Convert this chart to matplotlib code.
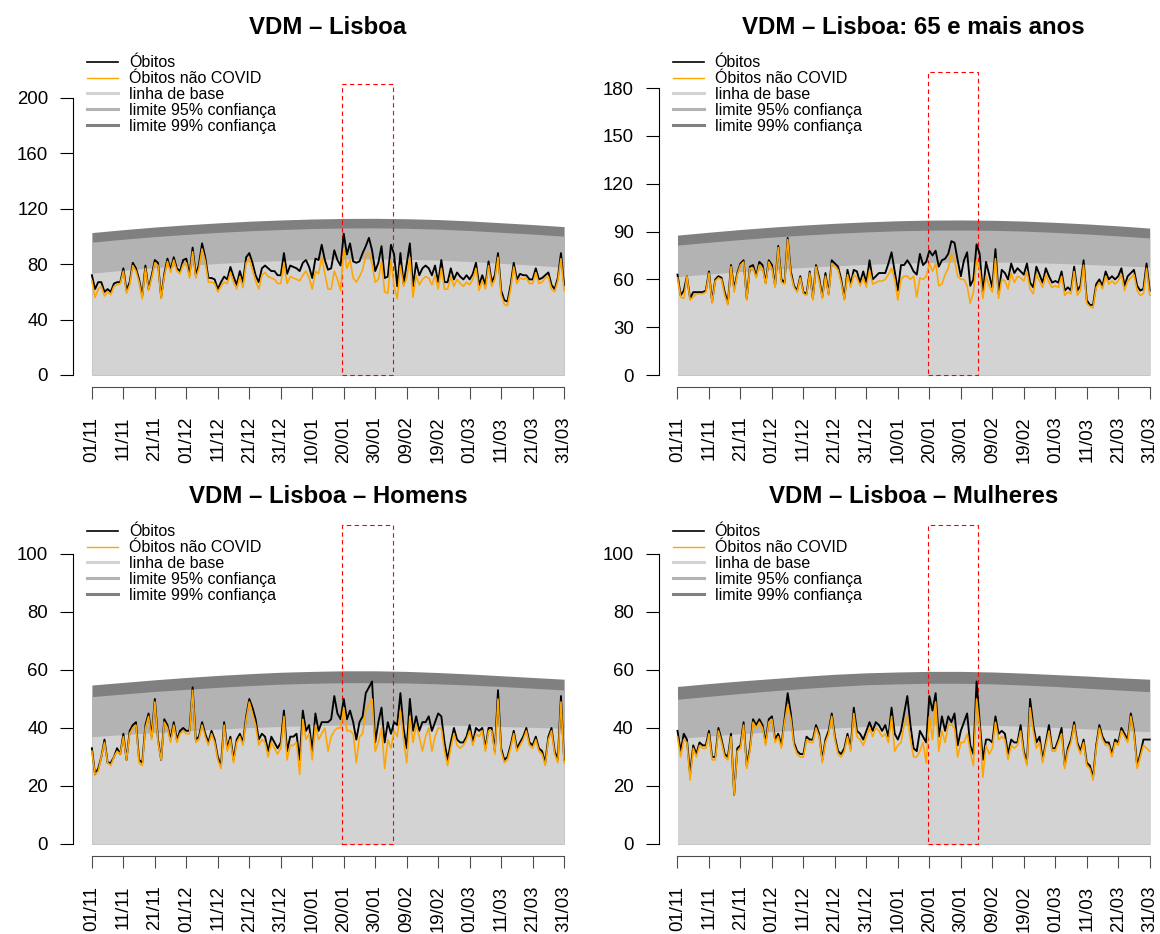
import numpy as np
import matplotlib
matplotlib.use("Agg")
import matplotlib.pyplot as plt
from matplotlib.patches import Rectangle
from matplotlib.lines import Line2D

plt.rcParams['font.family'] = ['Liberation Sans', 'DejaVu Sans']

# daily deaths 01/11 .. 31/03 (151 days)
obitos_total = [72,62,67,67,60,62,60,66,67,67, 77,61,67,81,77,69,57,79,62,72,
                83,81,56,73,84,76,85,77,75,83, 84,72,92,72,80,95,85,70,70,69,
                62,67,71,69,78,71,65,75,67,85, 88,81,72,67,77,79,77,75,75,72,
                72,88,73,79,78,77,75,81,83,78, 70,84,83,94,83,76,77,90,83,79,
                102,87,95,82,81,82,88,93,99,90, 75,81,93,70,71,94,87,64,88,66,
                80,95,64,81,72,77,79,77,72,79, 67,83,67,67,77,69,74,71,69,72,
                69,73,81,65,72,65,82,67,72,88, 61,54,53,65,81,69,73,72,72,69,
                69,77,69,70,72,74,65,62,70,88, 65]
nao_covid_total = [68,56,62,64,57,60,58,64,65,66, 75,59,65,79,75,67,55,77,61,70,
                   81,79,55,71,82,74,83,75,73,80, 81,70,89,70,77,91,82,67,67,66,
                   60,64,67,66,74,67,62,71,63,81, 84,76,68,62,72,74,71,70,69,66,
                   66,81,66,71,70,69,68,72,75,70, 62,75,73,85,73,62,62,75,69,61,
                   91,77,83,70,67,71,76,86,88,80, 67,69,82,60,59,83,64,55,79,64,
                   70,85,56,72,65,69,71,70,65,72, 62,77,62,62,71,64,69,66,64,67,
                   65,69,77,61,68,62,79,64,69,85, 58,51,50,62,78,66,70,69,70,66,
                   66,74,66,67,70,71,62,60,68,84, 61]

obitos_65 = [63,50,53,62,48,52,52,52,52,53, 65,46,60,62,61,52,45,69,54,64,
             70,72,48,68,69,62,71,69,58,72, 69,56,81,60,58,86,65,56,53,62,
             52,51,65,48,69,61,49,64,51,72, 70,68,60,48,66,57,66,65,58,65,
             58,72,60,62,64,64,64,70,77,65, 53,69,69,72,69,65,63,76,69,71,
             78,75,78,68,72,73,76,84,83,72, 62,72,77,56,60,82,76,51,71,63,
             55,79,51,66,64,60,70,64,67,65, 63,70,58,55,68,63,58,67,62,58,
             59,58,65,53,55,53,68,53,56,72, 47,44,44,57,60,56,65,60,62,60,
             62,67,56,62,64,66,56,53,54,70, 53]
nao_covid_65 = [61,49,48,62,47,49,51,51,51,52, 64,45,59,61,60,50,44,68,52,63,
                69,71,47,67,67,61,69,67,57,71, 67,55,80,58,57,85,63,55,52,61,
                51,50,64,47,68,59,48,62,50,70, 68,66,58,47,63,55,63,61,56,61,
                55,66,57,58,59,59,60,63,67,60, 47,60,62,62,60,62,49,61,60,62,
                70,65,70,56,57,63,67,76,72,62, 60,60,56,45,52,72,66,48,62,56,
                52,73,48,60,59,54,64,58,62,61, 59,65,54,51,63,59,55,63,58,55,
                56,55,62,50,52,51,65,50,53,69, 45,43,42,55,58,54,62,57,59,57,
                59,63,53,59,61,63,53,50,51,67, 50]

obitos_homens = [33,24,26,30,36,28,28,30,33,31, 38,29,39,41,42,29,28,41,45,37,
                 50,36,29,43,41,36,42,36,39,40, 39,39,54,36,37,42,38,35,39,36,
                 30,27,42,33,37,29,36,38,35,44, 50,47,43,36,38,37,32,37,35,33,
                 35,46,32,37,37,38,29,46,39,41, 32,45,39,42,42,42,43,51,45,43,
                 50,43,46,42,36,42,44,52,54,56, 35,42,47,35,42,38,42,41,52,40,
                 33,50,39,44,39,42,42,44,39,42, 45,44,35,29,35,40,36,35,35,37,
                 41,35,40,39,40,33,40,40,32,53, 33,29,30,34,39,33,35,37,40,35,
                 34,37,33,32,28,37,40,32,29,51, 29]
nao_covid_homens = [32,24,25,30,35,28,27,30,32,31, 37,29,38,40,41,28,27,40,44,36,
                    49,35,29,42,40,35,41,35,38,39, 38,38,53,35,36,41,37,34,38,35,
                    29,26,41,32,36,28,35,37,34,43, 49,45,41,34,36,35,30,35,33,31,
                    33,44,29,34,34,35,24,43,36,38, 29,41,36,38,40,32,37,39,40,40,
                    47,39,39,38,28,37,38,46,48,50, 32,35,40,26,36,33,39,37,46,36,
                    28,44,35,41,37,32,37,40,32,37, 40,40,32,27,33,38,34,33,34,36,
                    39,34,38,37,39,32,39,39,31,50, 32,28,29,33,38,32,34,36,39,34,
                    33,36,32,31,27,36,39,31,28,49, 28]

obitos_mulheres = [39,32,38,36,24,34,31,35,34,34, 39,30,30,40,36,31,30,38,17,33,
                   34,42,27,33,43,41,43,41,35,43, 44,36,38,34,43,52,45,35,32,31,
                   31,37,36,36,41,38,29,36,39,45, 37,32,31,33,38,33,47,39,38,36,
                   39,42,39,42,41,39,41,37,47,38, 36,39,45,51,41,33,32,39,37,35,
                   51,46,52,37,44,39,44,42,45,34, 39,42,45,34,31,56,42,29,36,36,
                   35,44,38,39,38,31,36,35,35,41, 32,28,50,41,35,37,29,35,41,33,
                   33,36,40,27,33,36,42,35,32,36, 28,27,23,34,41,37,35,35,31,36,
                   35,40,38,36,45,39,27,31,36,36, 36]
nao_covid_mulheres = [37,30,36,35,22,33,30,34,33,33, 38,29,29,39,35,30,29,37,17,32,
                      33,41,26,32,42,40,42,40,34,42, 43,35,37,33,42,48,43,34,31,30,
                      30,36,35,35,40,37,28,35,38,44, 36,31,30,32,37,32,45,37,36,34,
                      37,40,37,40,39,37,38,35,44,32, 34,35,41,44,36,30,30,32,35,28,
                      44,36,49,32,39,35,41,41,40,30, 35,35,38,32,27,50,40,23,34,31,
                      33,42,36,37,36,29,34,33,34,39, 31,27,47,39,33,35,28,34,39,32,
                      32,35,38,26,32,35,41,34,31,35, 27,26,22,33,40,36,34,34,30,35,
                      34,39,37,35,44,38,26,30,34,33, 32]

# baseline and limits every 10 days
base_total = [73.5,75.6,77.5,79.1,80.5,81.7,82.6,83.3,83.7,83.8,83.5,82.9,81.9,80.6,79.3,77.8]
lim95_total = [95.9,98.0,99.9,101.5,102.9,104.1,105.0,105.7,106.1,106.2,105.9,105.3,104.3,103.0,101.7,100.2]
lim99_total = [102.8,104.9,106.8,108.4,109.8,111.0,111.9,112.6,113.0,113.1,112.8,112.2,111.2,109.9,108.6,107.1]

base_65 = [61.7,63.4,64.9,66.3,67.5,68.5,69.4,70.1,70.6,70.9,70.9,70.6,70.1,69.4,68.6,67.8]
lim95_65 = [81.5,83.3,85.0,86.5,87.8,88.9,89.8,90.5,90.9,91.0,90.8,90.3,89.5,88.5,87.3,86.0]
lim99_65 = [87.8,89.6,91.3,92.8,94.1,95.2,96.1,96.8,97.2,97.3,97.1,96.6,95.8,94.8,93.6,92.2]

base_homens = [37.0,37.7,38.4,39.0,39.6,40.1,40.5,40.8,41.0,41.1,41.1,41.0,40.8,40.5,40.2,39.9]
lim95_homens = [50.8,51.7,52.6,53.3,54.0,54.6,55.1,55.4,55.6,55.6,55.5,55.2,54.8,54.3,53.7,53.1]
lim99_homens = [54.8,55.7,56.6,57.4,58.1,58.7,59.2,59.5,59.7,59.7,59.5,59.1,58.6,58.0,57.4,56.8]

base_mulheres = [36.4,37.2,38.0,38.7,39.4,40.0,40.5,40.8,41.0,41.0,40.9,40.6,40.2,39.7,39.2,38.7]
lim95_mulheres = [49.9,50.9,51.9,52.8,53.6,54.3,54.9,55.2,55.4,55.4,55.2,54.8,54.3,53.7,53.1,52.5]
lim99_mulheres = [54.3,55.3,56.2,57.0,57.8,58.5,59.0,59.3,59.5,59.5,59.3,58.9,58.4,57.9,57.3,56.8]

date_labels = ['01/11','11/11','21/11','01/12','11/12','21/12','31/12','10/01',
               '20/01','30/01','09/02','19/02','01/03','11/03','21/03','31/03']
highlight_start = 79.5
highlight_end = 95.5

days = np.arange(len(obitos_total))
band_days = np.arange(0, 151, 10)

panels = [
    ('VDM – Lisboa', obitos_total, nao_covid_total, base_total, lim95_total, lim99_total,
     np.arange(0, 201, 40), 210, (-8.9, 231.0)),
    ('VDM – Lisboa: 65 e mais anos', obitos_65, nao_covid_65, base_65, lim95_65, lim99_65,
     np.arange(0, 181, 30), 190, (-7.7, 200.8)),
    ('VDM – Lisboa – Homens', obitos_homens, nao_covid_homens, base_homens, lim95_homens, lim99_homens,
     np.arange(0, 101, 20), 110, (-4.24, 110.3)),
    ('VDM – Lisboa – Mulheres', obitos_mulheres, nao_covid_mulheres, base_mulheres, lim95_mulheres, lim99_mulheres,
     np.arange(0, 101, 20), 110, (-4.24, 110.3)),
]

W, H = 1160, 934
fig = plt.figure(figsize=(W / 100, H / 100), dpi=100)
lefts = [73, 658.6]
bottoms = [387.3, 856.3]
aw, ah = 510, 332.3

c_base, c_95, c_99 = '#D3D3D3', '#B3B3B3', '#808080'
axis_gray = '#4d4d4d'

for i, (title, tot, nc, base, l95, l99, yt, rect_top, ylim) in enumerate(panels):
    r, c = divmod(i, 2)
    ax = fig.add_axes([lefts[c] / W, 1 - bottoms[r] / H, aw / W, ah / H])

    ax.fill_between(band_days, 0, l99, color=c_99, lw=0)
    ax.fill_between(band_days, 0, l95, color=c_95, lw=0)
    ax.fill_between(band_days, 0, base, color=c_base, lw=0)
    ax.plot(days, tot, color='black', lw=1.35)
    ax.plot(days, nc, color='#FFA500', lw=1.15)
    ax.add_patch(Rectangle((highlight_start, 0), highlight_end - highlight_start, rect_top,
                           fill=False, edgecolor='red', lw=0.8, linestyle=(0, (4, 3))))

    ax.set_xlim(-6, 156)
    ax.set_ylim(*ylim)
    for s in ['top', 'right']:
        ax.spines[s].set_visible(False)
    ax.spines['left'].set_bounds(yt[0], yt[-1])
    ax.spines['bottom'].set_bounds(0, 150)
    ax.spines['left'].set_linewidth(0.8)
    ax.spines['bottom'].set_linewidth(0.8)
    ax.spines['bottom'].set_color(axis_gray)
    ax.set_yticks(yt)
    ax.set_xticks(band_days)
    ax.set_xticklabels(date_labels, rotation=90)
    ax.tick_params(axis='y', length=9.4, width=0.8, pad=8.5, labelsize=13.4)
    ax.tick_params(axis='x', length=8.6, width=0.8, pad=12.5, labelsize=13.4,
                   color=axis_gray)
    ax.set_title(title, fontsize=17.3, fontweight='bold', pad=15.0)

    handles = [Line2D([], [], color='black', lw=1.2),
               Line2D([], [], color='#FFA500', lw=1.0),
               Line2D([], [], color=c_base, lw=2.2),
               Line2D([], [], color=c_95, lw=2.2),
               Line2D([], [], color=c_99, lw=2.2)]
    labels = ['Óbitos', 'Óbitos não COVID', 'linha de base',
              'limite 95% confiança', 'limite 99% confiança']
    ax.legend(handles, labels, loc='upper left', bbox_to_anchor=(0.0275, 0.999),
              frameon=False, fontsize=11.5, handlelength=1.94, handletextpad=0.69,
              borderpad=0, borderaxespad=0, labelspacing=0.05)

fig.savefig('out.png', dpi=100)
